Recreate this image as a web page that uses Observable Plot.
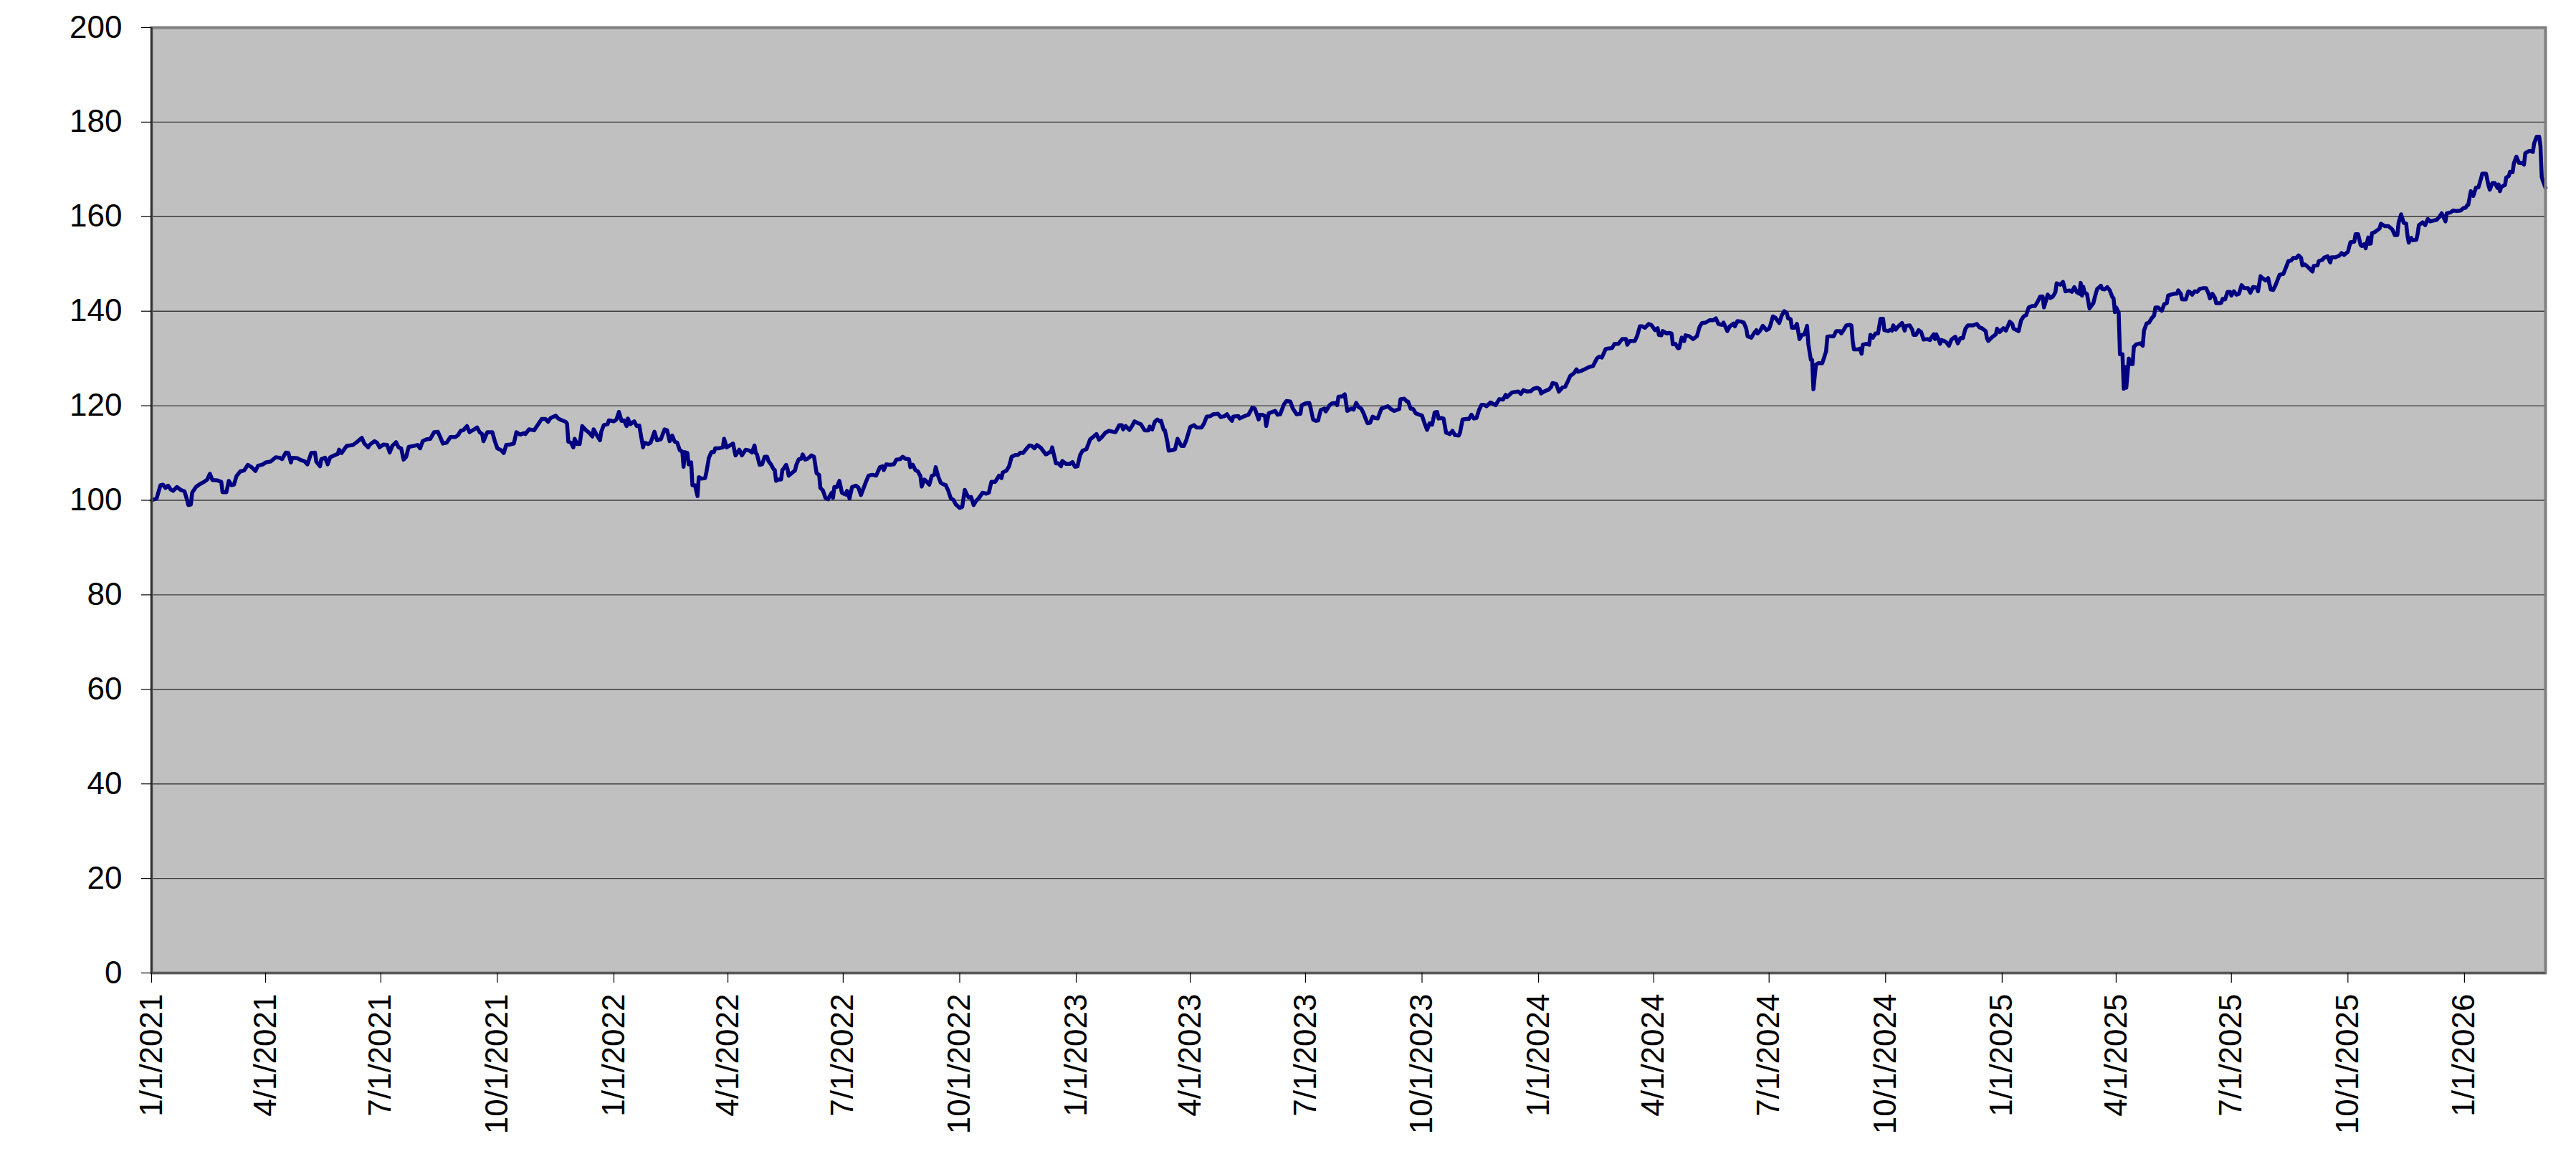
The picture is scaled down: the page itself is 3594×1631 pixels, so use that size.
<!DOCTYPE html>
<html>
<head>
<meta charset="utf-8">
<script src="https://cdn.jsdelivr.net/npm/d3@7"></script>
<script src="https://cdn.jsdelivr.net/npm/@observablehq/plot@0.6"></script>
<style>
  html, body { margin: 0; padding: 0; background: #ffffff; overflow: hidden; }
  #chart svg { display: block; }
</style>
</head>
<body>
<div id="chart"></div>
<script>
// Series start date and last date shown on the axis
const startDate = "2021-01-01";
const endDay = 1890; // days after startDate (early March 2026)

const daysSinceStart = [
0,4,7,9,11,13,15,17,20,23,26,28,29,31,32,35,38,42,44,46,48,52,55,56,59,61,63,65,67,70,73,76,79,82,84,88,90,94,98,101,103,106,108,110,111,115,118,121,123,126,129,130,133,134,137,139,141,145,147,148,150,154,159,162,166,168,171,172,176,178,180,183,186,188,190,193,195,197,199,201,203,207,210,212,214,217,220,223,226,228,230,
233,236,240,242,244,246,249,251,254,257,259,261,262,265,269,271,273,276,278,280,283,286,288,291,294,295,298,302,305,308,311,313,315,319,321,324,327,328,329,331,333,334,336,338,340,343,345,348,349,351,354,355,357,360,361,365,367,369,371,373,375,376,378,381,383,385,388,389,392,394,397,399,402,405,407,409,411,413,415,417,419,420,421,423,424,426,427,429,431,432,434,437,438,440,442,444,445,448,451,452,454,456,459,461,464,466,469,
472,474,476,477,478,480,482,484,486,487,489,491,492,493,495,497,498,499,501,502,503,506,508,509,511,513,514,516,518,521,523,525,527,528,530,532,534,537,538,539,541,543,545,548,549,551,553,556,558,560,562,564,566,569,572,575,577,578,580,583,586,588,591,593,595,598,599,601,603,605,607,608,610,611,614,616,618,619,621,623,625,627,629,631,633,635,638,640,642,643,645,647,649,651,653,656,659,661,663,666,669,671,672,675,677,679,682,684,686,688,691,693,695,697,699,702,706,
707,709,710,711,714,716,718,719,722,725,727,729,731,733,735,738,741,743,746,748,750,753,756,759,761,764,766,767,769,772,774,776,779,781,784,787,788,790,792,794,796,797,799,800,802,803,806,808,810,813,815,817,820,823,825,829,831,833,836,838,842,844,847,849,851,853,854,858,859,862,864,866,869,871,874,875,877,879,880,882,885,887,889,891,894,896,899,901,904,907,908,911,914,915,917,919,921,923,926,927,930,932,935,936,937,940,942,944,
947,949,951,953,955,957,959,960,962,964,966,968,971,974,976,978,981,983,985,986,989,991,992,994,996,998,1001,1003,1005,1007,1009,1011,1013,1015,1016,1018,1020,1022,1025,1027,1029,1032,1033,1035,1038,1040,1042,1044,1046,1048,1050,1052,1054,1057,1061,1064,1067,1069,1070,1074,1076,1079,1081,1083,1086,1089,1091,1094,1096,1097,1100,1103,1105,1106,1109,1111,1114,1116,1118,1120,1123,1125,1126,1129,1132,1135,1138,1141,1143,1145,1148,1150,1153,1155,1158,1161,1164,1165,1167,1171,1173,1175,1177,1179,1182,
1184,1187,1189,1190,1192,1193,1196,1198,1200,1201,1203,1205,1206,1208,1210,1211,1214,1217,1220,1222,1224,1227,1230,1233,1235,1237,1240,1241,1243,1244,1246,1249,1250,1252,1255,1257,1259,1260,1263,1265,1267,1268,1270,1272,1275,1277,1278,1280,1282,1285,1287,1289,1291,1292,1294,1295,1297,1299,1301,1303,1305,1307,1308,1310,1311,1312,1314,1316,1319,1322,1323,1325,1328,1330,1333,1334,1336,1338,1341,1342,1343,1344,1347,1349,1350,1351,1354,1356,1357,1359,1361,1363,1365,1367,1368,1371,1373,1374,1375,1377,1379,1382,1384,1385,1388,1390,1391,1393,1395,1397,1399,1402,1404,1405,1407,1408,1409,1411,1412,1413,1416,1417,1419,
1421,1424,1426,1428,1430,1432,1434,1438,1441,1443,1445,1448,1449,1450,1453,1456,1457,1459,1462,1464,1467,1469,1470,1474,1476,1478,1480,1482,1485,1487,1489,1491,1493,1494,1497,1499,1501,1503,1504,1507,1509,1511,1514,1516,1518,1520,1522,1523,1524,1525,1526,1528,1530,1533,1534,1536,1539,1540,1542,1544,1546,1548,1549,1550,1551,1553,1554,1556,1557,1558,1559,1561,1562,1564,1565,1567,1570,1572,1573,1575,1577,1579,1581,1582,1584,1587,1589,1591,1592,1594,1597,1599,1600,1602,1603,1606,1608,1609,1611,1613,1615,1617,1620,1622,1624,1625,1627,1629,1630,1633,1634,1635,1637,1639,1641,1642,1644,1646,1648,1650,1652,1655,1657,
1659,1662,1663,1665,1667,1669,1671,1673,1675,1677,1680,1683,1685,1687,1689,1691,1693,1695,1697,1698,1700,1703,1706,1707,1710,1711,1714,1715,1718,1720,1721,1724,1727,1729,1731,1734,1736,1739,1740,1742,1744,1745,1747,1748,1750,1751,1752,1753,1755,1758,1759,1760,1763,1766,1769,1771,1773,1774,1776,1778,1780,1781,1782,1784,1785,1788,1789,1790,1793,1795,1797,1799,1802,1804,1806,1808,1811,1812,1815,1817,1820,1823,1825,1827,1828,1829,1831,1833,1835,1837,1839,1840,1843,1845,1846,1848,1850,1852,1853,1854,1855,1858,1859,1861,1862,1864,1865,1867,1869,1872,1873,1874,1877,1878,1880,1881,1883,1885,1886,1887,1888,1890
];

// Index level (1/1/2021 = 100)
const indexValues = [
100.0,100.4,103.2,103.3,102.6,103.1,102.3,102.0,102.8,102.2,101.9,100.1,99.0,99.1,101.6,102.8,103.4,104.0,104.4,105.6,104.3,104.2,103.9,101.7,101.7,104.1,103.2,103.3,105.1,106.1,106.3,107.5,107.0,106.2,107.3,107.6,108.0,108.2,109.1,109.0,108.7,110.1,110.0,108.0,109.0,108.9,108.5,108.2,107.6,110.0,110.1,108.2,107.2,108.7,109.0,107.6,109.1,109.6,109.8,110.7,110.0,111.5,111.7,112.3,113.2,112.0,111.2,111.7,112.5,112.2,111.2,111.8,111.7,110.1,111.5,112.3,111.2,111.0,108.6,109.2,111.3,111.5,111.7,111.0,112.5,112.9,113.0,114.4,114.5,113.3,112.0,
112.2,113.4,113.4,113.8,114.7,114.8,115.7,114.4,114.9,115.4,114.4,114.0,112.5,114.4,114.4,112.5,111.0,110.6,110.0,111.7,111.8,112.0,114.4,113.9,114.2,114.0,115.0,114.8,116.0,117.2,117.2,116.6,117.4,117.9,117.3,116.9,116.6,116.2,112.4,112.2,111.2,113.0,111.9,111.9,115.7,114.8,114.4,113.5,115.0,114.0,112.7,114.5,115.9,116.1,116.9,116.7,117.1,118.7,116.8,116.9,115.7,117.3,116.1,116.7,115.7,115.8,111.2,112.2,111.9,112.2,114.5,112.7,112.9,115.0,114.8,112.5,113.7,112.4,112.2,110.6,110.3,107.1,110.2,110.0,107.6,108.0,103.2,103.2,100.9,104.9,104.6,104.7,105.9,109.0,110.2,110.2,111.0,111.0,111.2,113.0,111.2,111.5,112.0,109.5,110.7,109.5,110.7,
110.5,110.1,111.6,110.0,109.7,107.5,107.6,109.2,109.2,108.3,107.6,106.6,106.4,104.1,104.4,104.4,106.4,106.7,107.5,106.7,105.2,105.9,106.3,107.5,108.7,108.8,109.7,108.6,108.8,109.5,109.2,105.7,105.4,102.6,102.1,100.5,100.2,101.6,100.5,102.8,102.8,104.1,101.6,101.2,102.0,100.4,102.8,103.1,102.7,101.1,102.5,103.9,105.2,105.4,105.2,107.0,107.2,106.4,107.6,107.5,107.6,108.6,108.7,109.2,108.8,108.7,107.0,107.5,106.4,106.1,105.1,102.9,104.4,104.2,103.3,105.2,105.4,107.0,105.1,103.7,103.4,103.2,102.0,100.4,100.1,99.1,98.4,98.6,102.2,101.6,100.6,100.7,99.0,99.9,100.4,101.6,101.4,101.6,103.9,103.9,105.2,104.7,105.9,106.3,107.2,109.2,109.6,109.6,110.1,110.0,111.0,111.6,111.5,111.0,111.7,111.1,109.7,
109.8,110.2,110.2,111.2,107.8,107.8,107.2,108.3,107.7,107.7,108.1,107.1,107.2,109.5,110.5,110.8,112.9,113.3,114.0,112.8,113.3,114.3,114.7,114.5,114.4,115.9,115.9,115.0,115.7,114.9,115.7,116.7,116.3,116.1,114.8,114.8,115.6,115.0,116.6,117.1,116.7,116.8,114.9,114.8,112.3,110.5,110.6,110.8,113.0,111.5,111.5,112.8,115.5,115.9,115.4,115.4,116.3,117.7,117.8,118.2,118.3,117.6,117.8,118.2,117.4,116.8,117.7,117.8,117.3,117.7,117.9,118.1,119.6,119.4,117.1,118.1,118.1,117.8,115.7,118.4,118.7,118.9,118.1,118.2,120.3,121.0,120.9,119.4,118.2,118.3,120.1,120.5,120.6,119.6,117.1,116.8,116.9,119.1,119.4,118.8,120.1,120.5,120.6,120.1,121.9,122.0,122.4,118.9,
119.4,119.2,120.6,119.7,119.4,118.3,116.9,116.3,116.4,117.7,117.4,117.3,119.4,119.7,119.9,119.4,118.9,119.1,119.3,121.4,121.5,120.9,120.9,119.4,119.3,118.4,118.1,117.9,116.3,114.9,116.3,116.0,118.6,118.7,117.3,117.4,117.3,114.3,114.0,114.7,113.8,113.7,114.3,117.1,117.2,117.2,118.1,117.3,117.4,119.1,120.2,120.2,119.9,120.7,120.1,121.4,121.3,122.3,121.8,122.8,122.9,123.0,122.5,123.3,123.0,123.1,123.6,123.8,123.5,122.6,123.1,123.4,124.0,124.8,124.6,123.0,123.9,124.0,125.1,126.3,126.9,127.7,127.2,127.4,127.8,128.2,128.4,130.0,130.4,130.2,132.0,132.1,132.2,133.1,133.1,134.1,134.1,132.9,133.7,133.7,134.9,136.8,136.8,136.5,137.3,
137.1,136.0,136.4,135.0,134.9,135.8,135.3,135.4,135.3,133.0,133.1,132.2,132.2,134.4,133.7,134.9,134.7,134.1,134.7,136.6,137.5,137.6,138.1,138.1,138.5,137.3,137.1,137.6,136.4,135.8,136.8,137.4,136.8,137.9,137.8,137.6,136.3,134.7,134.4,135.3,136.0,135.3,135.9,136.9,136.0,136.3,137.0,138.9,138.6,137.5,139.1,140.0,139.6,138.5,138.3,136.5,136.5,137.3,134.1,135.0,135.1,136.9,133.0,129.7,129.7,123.5,128.7,129.0,129.0,131.5,134.6,134.7,134.7,135.8,135.8,135.3,136.1,137.0,137.1,137.0,133.7,131.9,131.9,132.1,131.0,132.9,133.1,132.9,135.0,134.4,135.3,135.3,138.4,138.4,136.0,135.8,136.1,135.9,137.0,136.1,136.8,137.5,135.9,136.9,137.0,136.1,135.0,135.0,136.0,135.6,134.0,134.1,133.9,134.4,135.1,134.1,135.1,133.9,133.1,133.9,133.6,133.4,132.7,
134.0,134.6,133.2,134.3,134.3,136.3,137.0,137.0,137.3,136.6,136.4,135.8,134.3,133.7,134.5,135.1,136.3,135.6,136.4,135.9,137.8,137.3,136.3,135.8,138.1,138.9,139.2,140.8,141.1,141.1,142.0,143.1,143.1,140.8,143.5,142.8,143.1,144.0,145.9,145.6,146.2,144.2,144.4,144.1,145.1,144.0,143.7,146.0,143.3,145.2,144.0,143.6,140.6,141.7,142.8,144.7,145.4,144.7,144.6,145.1,144.4,143.0,142.7,139.8,140.8,139.7,130.9,130.9,123.6,128.2,123.8,130.0,128.8,128.8,132.5,133.0,133.2,132.7,135.9,137.4,137.6,138.5,139.1,140.8,140.8,140.1,141.5,141.7,143.3,143.5,143.7,143.7,144.4,143.7,142.5,142.5,144.2,144.1,143.5,144.2,144.1,144.7,144.9,144.9,143.7,142.7,143.7,142.8,141.7,141.7,141.8,142.6,142.5,144.1,144.1,143.3,144.2,143.5,143.7,145.5,144.9,144.9,143.9,
145.1,145.0,144.2,147.4,146.9,146.5,147.0,144.6,144.5,145.6,147.7,147.9,149.2,150.6,150.7,151.3,151.2,151.8,151.3,149.7,149.9,149.2,148.4,149.6,149.7,150.6,150.9,151.3,151.6,150.3,151.4,151.4,151.7,152.3,151.9,152.6,154.6,154.7,156.3,156.3,154.0,153.8,154.2,153.3,155.6,154.3,154.3,156.5,156.7,157.3,157.5,158.5,158.0,158.0,157.3,156.1,156.1,158.7,160.5,158.7,158.5,156.0,154.5,155.5,155.0,155.1,156.3,158.2,158.8,158.2,159.5,159.0,159.2,159.3,159.9,160.7,159.0,160.7,160.9,161.3,161.2,161.3,161.8,161.9,162.4,162.5,165.4,164.4,166.1,166.2,168.0,169.1,169.1,166.6,165.7,167.1,167.1,166.1,166.8,165.4,166.3,166.7,168.3,168.6,169.5,169.4,171.3,172.7,171.4,171.3,171.0,173.4,173.9,173.9,173.7,175.5,176.9,176.9,174.9,168.4,167.5,166.1
];

// Axis ticks
const xTickLabels = [
  "1/1/2021","4/1/2021","7/1/2021","10/1/2021",
  "1/1/2022","4/1/2022","7/1/2022","10/1/2022",
  "1/1/2023","4/1/2023","7/1/2023","10/1/2023",
  "1/1/2024","4/1/2024","7/1/2024","10/1/2024",
  "1/1/2025","4/1/2025","7/1/2025","10/1/2025",
  "1/1/2026"
];
const yTicks = [0, 20, 40, 60, 80, 100, 120, 140, 160, 180, 200];

// ---- build tables for Plot ----
const DAY = 86400000;
const t0 = Date.parse(startDate + "T00:00:00Z");
const dayToDate = d => new Date(t0 + d * DAY);
const series = daysSinceStart.map((d, i) => ({date: dayToDate(d), value: indexValues[i]}));
const parseMDY = s => { const [m, d, y] = s.split("/").map(Number); return new Date(Date.UTC(y, m - 1, d)); };
const xTickDates = xTickLabels.map(parseMDY);
const fmtMDY = d => `${d.getUTCMonth() + 1}/${d.getUTCDate()}/${d.getUTCFullYear()}`;
const xStart = dayToDate(0), xEnd = dayToDate(endDay);

const chart = Plot.plot({
  width: 3594,
  height: 1631,
  marginLeft: 211,
  marginRight: 43,
  marginTop: 38,
  marginBottom: 274,
  style: {
    fontFamily: "'Liberation Sans', Arial, Helvetica, sans-serif",
    fontSize: "44px",
    color: "#000000",
    background: "#ffffff",
    overflow: "visible"
  },
  x: {type: "utc", domain: [xStart, xEnd]},
  y: {domain: [0, 200]},
  marks: [
    Plot.frame({fill: "#C0C0C0", stroke: null}),
    Plot.ruleY(yTicks.filter(v => v > 0 && v < 200), {stroke: "#3c3c3c", strokeWidth: 1.4}),
    Plot.line(series, {x: "date", y: "value", stroke: "#000080", strokeWidth: 5.5, strokeLinejoin: "round", strokeLinecap: "round"}),
    Plot.frame({stroke: "#808080", strokeWidth: 4, fill: null}),
    Plot.ruleX([xStart], {stroke: "#303030", strokeWidth: 2.5}),
    Plot.ruleY([0], {stroke: "#505050", strokeWidth: 2.5}),
    Plot.axisY({ticks: yTicks, tickSize: 14, tickPadding: 27, tickFormat: d => String(d), label: null, stroke: "#000", strokeWidth: 1.2}),
    Plot.axisX({ticks: xTickDates, tickSize: 14, tickPadding: 15, tickRotate: -90, tickFormat: fmtMDY, label: null, stroke: "#000", strokeWidth: 1.2})
  ]
});
document.getElementById("chart").appendChild(chart);
</script>
</body>
</html>
